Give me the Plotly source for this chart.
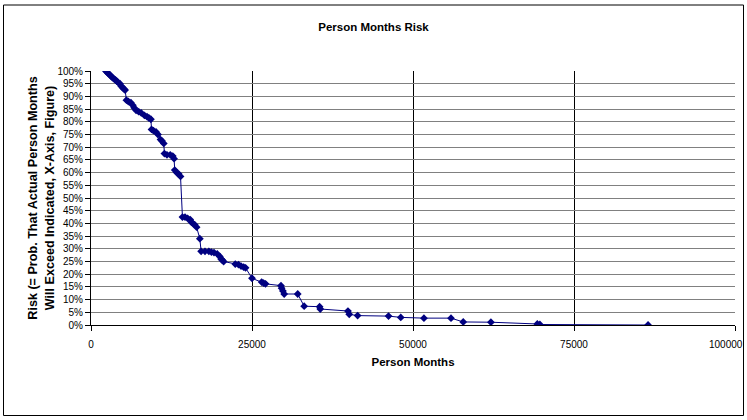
import plotly.graph_objects as go

# Person months (x) and risk (y, fraction exceeding)
person_months = [
    2300, 2500, 2700, 2900, 3100, 3300, 3500, 3800, 4000, 4200, 4500, 4700, 4900, 5100, 5300,
    5500, 5800, 6200, 6500, 6700, 7000, 7400, 7800, 8300, 8700, 9000, 9300,
    9400, 9700, 10100, 10400, 10800, 11000, 11300,
    11400, 11800, 12300, 12700, 12900,
    13000, 13300, 13600, 13900,
    14200, 14600, 15000, 15400, 15600, 15800, 16100, 16400,
    16900,
    17100, 17700, 18300, 18700, 19100, 19600, 20000, 20200, 20400, 20600,
    22400, 22900, 23300, 23700, 24000,
    25000,
    26500, 26800, 27100,
    29500, 29600, 29800, 30000,
    32100, 33100, 35500, 35600,
    39900, 40100, 41400,
    46200, 48100, 51700, 55900, 57800, 62100, 69300, 69700, 86500,
]
risk = [
    1.000, 0.995, 0.990, 0.985, 0.980, 0.975, 0.970, 0.965, 0.960, 0.955, 0.950, 0.940, 0.935, 0.930, 0.925,
    0.885, 0.880, 0.875, 0.865, 0.855, 0.845, 0.840, 0.835, 0.825, 0.820, 0.815, 0.810,
    0.770, 0.765, 0.760, 0.750, 0.730, 0.725, 0.715,
    0.675, 0.670, 0.670, 0.665, 0.655,
    0.610, 0.600, 0.595, 0.585,
    0.425, 0.425, 0.420, 0.415, 0.405, 0.400, 0.395, 0.385,
    0.340,
    0.290, 0.290, 0.290, 0.287, 0.285, 0.280, 0.270, 0.260, 0.255, 0.250,
    0.240, 0.238, 0.232, 0.228, 0.225,
    0.184,
    0.169, 0.165, 0.162,
    0.155, 0.145, 0.134, 0.122,
    0.122, 0.074, 0.072, 0.063,
    0.055, 0.042, 0.037,
    0.035, 0.030, 0.027, 0.027, 0.012, 0.011, 0.004, 0.002, 0.000,
]

x_ticks = [0, 25000, 50000, 75000, 100000]
x_tick_labels = ["0", "25000", "50000", "75000", "100000"]

title_text = "Person Months Risk"
x_title = "Person Months"
y_title = "Risk (= Prob. That Actual Person Months<br>Will Exceed Indicated, X-Axis, Figure)"

FONT = "Liberation Sans, Arial, sans-serif"
NAVY = "#000080"

fig = go.Figure()
fig.add_trace(go.Scatter(
    x=person_months, y=risk, mode="lines+markers",
    line=dict(color=NAVY, width=1),
    marker=dict(symbol="diamond", size=6, color=NAVY),
    showlegend=False,
))

W, H = 747, 420
L, R, T, B = 91, 12, 71, 95
pw, ph = W - L - R, H - T - B

def px_to_paper_x(px):
    return (px - L) / pw

def px_to_paper_y(py):
    return (H - B - py) / ph

# Last tick label is shifted left to stay inside the chart (as the original does)
shown_ticktext = x_tick_labels[:-1] + [""]

fig.update_layout(
    width=W, height=H,
    margin=dict(l=L, r=R, t=T, b=B),
    paper_bgcolor="white", plot_bgcolor="white",
    font=dict(family=FONT, size=10, color="black"),
    title=dict(text="<b>" + title_text + "</b>", x=0.5, xref="container", xanchor="center",
               y=1 - 27 / H, yref="container", yanchor="middle",
               font=dict(size=11.5, family=FONT)),
    xaxis=dict(
        range=[0, 100000], tickmode="array", tickvals=x_ticks, ticktext=shown_ticktext,
        showgrid=True, gridcolor="black", gridwidth=1,
        showline=True, linecolor="black", linewidth=1,
        ticks="outside", ticklen=5, tickcolor="black",
        zeroline=False, ticklabelstandoff=5,
        title=dict(text="<b>" + x_title + "</b>", font=dict(size=11.5, family=FONT), standoff=8),
        tickfont=dict(size=10),
    ),
    yaxis=dict(
        range=[0, 1], dtick=0.05, tickformat=".0%",
        showgrid=True, gridcolor="#808080", gridwidth=1,
        showline=True, linecolor="black", linewidth=1,
        ticks="outside", ticklen=5, tickcolor="black",
        zeroline=False,
        title=dict(text="<b>" + y_title + "</b>", font=dict(size=12.6, family=FONT), standoff=0),
        tickfont=dict(size=10),
    ),
    annotations=[dict(
        text=x_tick_labels[-1], xref="paper", yref="paper",
        x=px_to_paper_x(745), y=px_to_paper_y(337), xanchor="right", yanchor="top",
        showarrow=False, font=dict(size=10, family=FONT, color="black"),
    )],
    shapes=[dict(
        type="rect", xref="paper", yref="paper",
        x0=px_to_paper_x(3.5), x1=px_to_paper_x(743.5),
        y0=px_to_paper_y(415.5), y1=px_to_paper_y(5),
        line=dict(color="black", width=1), fillcolor="rgba(0,0,0,0)", layer="above",
    )],
)

fig.write_html(
    "out.html",
    config={"displayModeBar": False},
    post_script="document.body.style.margin='0px';document.body.style.overflow='hidden';",
)
